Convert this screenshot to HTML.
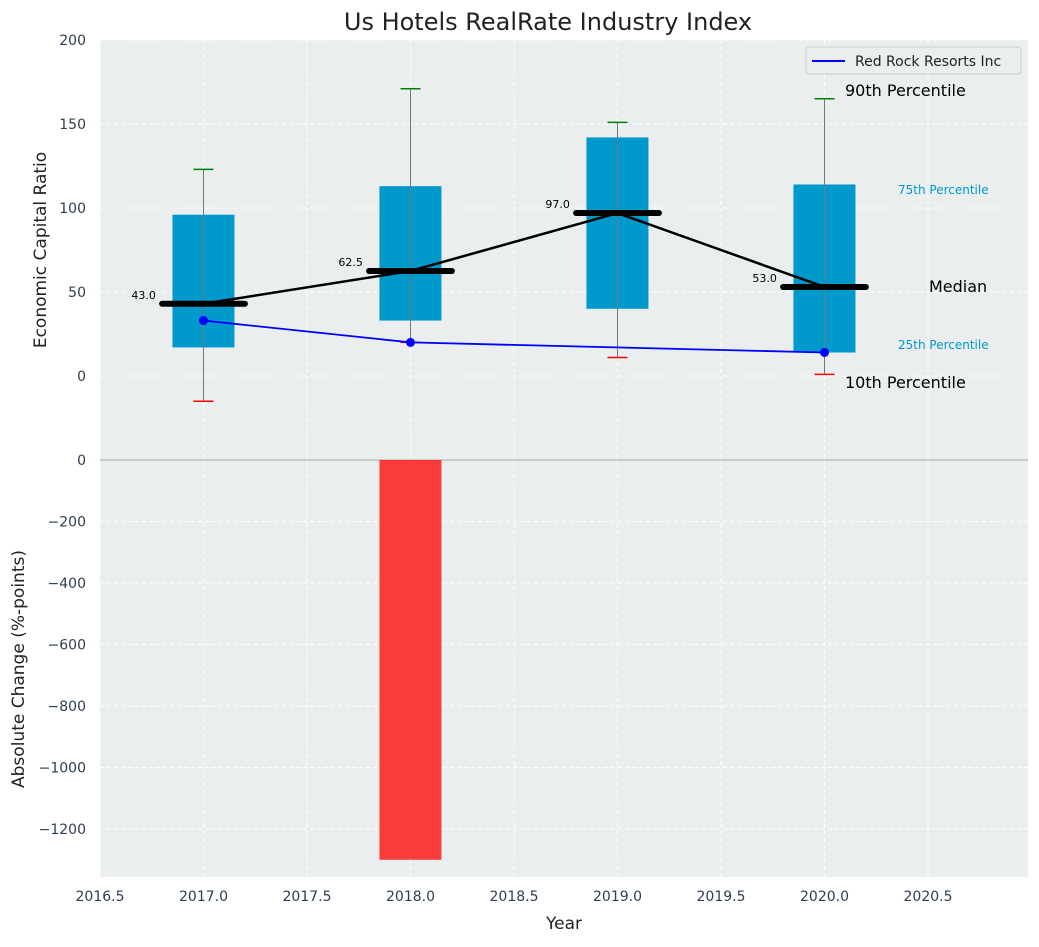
<!DOCTYPE html>
<html><head><meta charset="utf-8"><style>
body{margin:0;background:#fff;font-family:"Liberation Sans","DejaVu Sans",sans-serif;}
svg text{font-family:"DejaVu Sans","Liberation Sans",sans-serif;}
</style></head><body>
<svg id="c" width="1039" height="942" xmlns="http://www.w3.org/2000/svg"></svg>
<script>
const years=[2017,2018,2019,2020];
const q1=[17,33,40,14];
const q3=[96,113,142,114];
const medians=[43,62.5,97,53];
const p10=[-15,20,11,1];
const p90=[123,171,151,165];
const rrYears=[2017,2018,2020];
const rrValues=[33,20,14];
const changeYears=[2018];
const changeValues=[-1300];
const xTicks=[2016.5,2017,2017.5,2018,2018.5,2019,2019.5,2020,2020.5];
const yTopTicks=[0,50,100,150,200];
const yBotTicks=[0,-200,-400,-600,-800,-1000,-1200];

const svg=document.getElementById('c');const NS='http://www.w3.org/2000/svg';
function mk(t,a,p){const e=document.createElementNS(NS,t);for(const k in a)e.setAttribute(k,a[k]);(p||svg).appendChild(e);return e;}
const L=100,R=1028;
const x=v=>L+(v-2016.5)*207;
const yT=v=>376-v*1.68;
const yB=v=>460-v*(-0.3075)*-1*-1;
const yb=v=>460-v*0.3075*-1*-1; // unused
function yBot(v){return 460+(-v)*0.3075;}
// backgrounds
let e=mk('rect',{x:L,y:40,width:R-L,height:419,fill:'#eaeeef'});

e=mk('rect',{x:L,y:459,width:R-L,height:418,fill:'#eaeeef'});

// grids
xTicks.forEach(t=>{
 e=mk('line',{x1:x(t),x2:x(t),y1:40,y2:877,stroke:'#fff','stroke-dasharray':'4,3','stroke-width':1});
 
 e=mk('text',{x:x(t),y:901,'text-anchor':'middle','font-size':14,fill:'#2e3e52'});e.textContent=t.toFixed(1);
 
});
yTopTicks.forEach(t=>{
 e=mk('line',{x1:L,x2:R,y1:yT(t),y2:yT(t),stroke:'#fff','stroke-dasharray':'4,3'});
 
 e=mk('text',{x:86,y:yT(t)+5,'text-anchor':'end','font-size':14,fill:'#2e3e52'});e.textContent=t;
 
});
yBotTicks.forEach(t=>{
 e=mk('line',{x1:L,x2:R,y1:yBot(t),y2:yBot(t),stroke:'#fff','stroke-dasharray':'4,3'});
 
 e=mk('text',{x:86,y:yBot(t)+5,'text-anchor':'end','font-size':14,fill:'#2e3e52'});e.textContent=(t<0?'\u2212'+(-t):t);
 
});
e=mk('line',{x1:L,x2:R,y1:460,y2:460,stroke:'#aaa','stroke-width':1});

// boxes
years.forEach((yr,i)=>{
 e=mk('rect',{x:x(yr-0.15),y:yT(q3[i]),width:62,height:yT(q1[i])-yT(q3[i]),fill:'#0099cc'});
 
 e=mk('line',{x1:x(yr),x2:x(yr),y1:yT(p90[i]),y2:yT(p10[i]),stroke:'#777','stroke-width':1});
 
 e=mk('line',{x1:x(yr)-10,x2:x(yr)+10,y1:yT(p90[i]),y2:yT(p90[i]),stroke:'green','stroke-width':1.5});
 
 e=mk('line',{x1:x(yr)-10,x2:x(yr)+10,y1:yT(p10[i]),y2:yT(p10[i]),stroke:'red','stroke-width':1.5});
 
});
e=mk('polyline',{points:years.map((y,i)=>x(y)+','+yT(medians[i])).join(' '),fill:'none',stroke:'#000','stroke-width':2.5});

years.forEach((yr,i)=>{
 e=mk('line',{x1:x(yr-0.2),x2:x(yr+0.2),y1:yT(medians[i]),y2:yT(medians[i]),stroke:'#000','stroke-width':6,'stroke-linecap':'round'});
 
 e=mk('text',{x:x(yr-0.23),y:yT(medians[i])-5,'text-anchor':'end','font-size':11,fill:'#000'});e.textContent=medians[i].toFixed(1);
 
});
e=mk('polyline',{points:rrYears.map((y,i)=>x(y)+','+yT(rrValues[i])).join(' '),fill:'none',stroke:'blue','stroke-width':1.8});

rrYears.forEach((y,i)=>{e=mk('circle',{cx:x(y),cy:yT(rrValues[i]),r:4.5,fill:'blue'});
 });
// bottom bars
changeYears.forEach((yr,i)=>{
 e=mk('rect',{x:x(yr-0.15),y:Math.min(yBot(0),yBot(changeValues[i])),width:62,height:Math.abs(yBot(changeValues[i])-yBot(0)),fill:'#ff0000','fill-opacity':0.75});
 
});
// annotations
const ann=[[845,96,'90th Percentile',16,'#000'],[898,194,'75th Percentile',12,'#0099cc'],[929,292,'Median',16,'#000'],[898,349,'25th Percentile',12,'#0099cc'],[845,388,'10th Percentile',16,'#000']];
ann.forEach(a=>{e=mk('text',{x:a[0],y:a[1],'font-size':a[3],fill:a[4]});e.textContent=a[2];
 });
// legend
e=mk('rect',{x:806,y:47,width:215,height:27,fill:'#eaeeef',stroke:'#ccc',rx:3});

e=mk('line',{x1:812,x2:845,y1:61,y2:61,stroke:'blue','stroke-width':2});

e=mk('text',{x:855,y:66,'font-size':14,fill:'#222'});e.textContent='Red Rock Resorts Inc';

// titles
e=mk('text',{x:548,y:30,'text-anchor':'middle','font-size':24,fill:'#222'});e.textContent='Us Hotels RealRate Industry Index';

e=mk('text',{x:564,y:929,'text-anchor':'middle','font-size':17,fill:'#222'});e.textContent='Year';

e=mk('text',{x:0,y:0,'text-anchor':'middle','font-size':17,fill:'#222',transform:'translate(46,250) rotate(-90)'});e.textContent='Economic Capital Ratio';

e=mk('text',{x:0,y:0,'text-anchor':'middle','font-size':17,fill:'#222',transform:'translate(24,669) rotate(-90)'});e.textContent='Absolute Change (%-points)';

</script>
</body></html>
